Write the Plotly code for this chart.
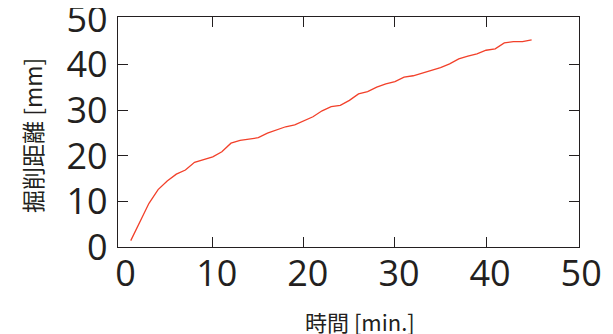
import plotly.graph_objects as go

time_min = list(range(1, 46))
distance_mm = [1.4, 5.6, 9.6, 12.6, 14.5, 16.0, 16.9, 18.6, 19.2, 19.8,
               20.9, 22.8, 23.4, 23.7, 24.0, 25.0, 25.7, 26.4, 26.8, 27.7,
               28.6, 29.9, 30.8, 31.1, 32.2, 33.6, 34.1, 35.1, 35.8, 36.3,
               37.3, 37.6, 38.2, 38.9, 39.4, 40.2, 41.3, 41.9, 42.4, 43.2,
               43.5, 44.8, 45.1, 45.1, 45.5]
tick_vals = [0, 10, 20, 30, 40, 50]
tick_marks = [10, 20, 30, 40]
x_title = "時間 [min.]"
y_title = "掘削距離 [mm]"

ink = "#231f20"
num_font = dict(family="Open Sans", size=36, color=ink)
cjk = "Noto Sans CJK JP"

fig = go.Figure()
fig.add_trace(go.Scatter(x=time_min, y=distance_mm, mode="lines",
                         line=dict(color="#f2402a", width=1.3),
                         showlegend=False, hoverinfo="skip"))
fig.add_trace(go.Scatter(x=[None], y=[None], xaxis="x2", yaxis="y2",
                         showlegend=False, hoverinfo="skip"))

xr = [-0.4, 50.2]
yr = [0, 50.5]
# page body has an 8px margin, so the figure is offset by 8px
fig.update_layout(
    width=605, height=326,
    margin=dict(l=110, r=34, t=9, b=87, autoexpand=False),
    paper_bgcolor="white", plot_bgcolor="white",
    xaxis=dict(range=xr, tickvals=tick_vals, ticks="", showgrid=False, zeroline=False,
               showline=True, linecolor=ink, linewidth=1.4, mirror=True,
               tickfont=num_font, automargin=False, ticklabeloverflow="allow",
               ticklabelstandoff=-5, ticklabelshift=4),
    yaxis=dict(range=yr, tickvals=tick_vals, ticks="", showgrid=False, zeroline=False,
               showline=True, linecolor=ink, linewidth=1.4, mirror=True,
               tickfont=num_font, ticklabelstandoff=2, automargin=False,
               ticklabeloverflow="allow"),
    xaxis2=dict(range=xr, overlaying="x", anchor="y", tickvals=tick_marks, ticks="inside",
                ticklen=10, tickwidth=1.4, tickcolor=ink, mirror="ticks", showline=False,
                showticklabels=False, showgrid=False, zeroline=False, automargin=False),
    yaxis2=dict(range=yr, overlaying="y", anchor="x", tickvals=tick_marks, ticks="inside",
                ticklen=10, tickwidth=1.4, tickcolor=ink, mirror="ticks", showline=False,
                showticklabels=False, showgrid=False, zeroline=False, automargin=False),
    annotations=[
        dict(text=x_title, xref="paper", yref="paper", x=(360-118)/461, y=-(321-247)/230,
             xanchor="center", yanchor="middle", showarrow=False,
             font=dict(family=cjk, size=22, color=ink)),
        dict(text=y_title, xref="paper", yref="paper", x=-(118-32)/461, y=(247-136)/230,
             xanchor="center", yanchor="middle", showarrow=False, textangle=-90,
             font=dict(family=cjk, size=23, color=ink)),
    ],
)
fig.write_html("out.html")
